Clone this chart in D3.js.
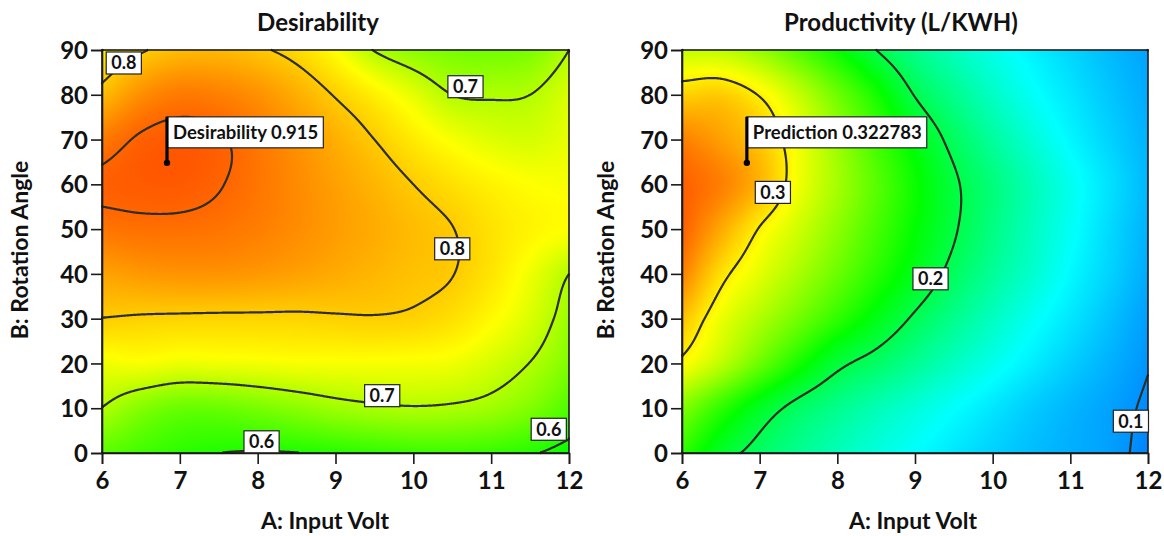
<!DOCTYPE html>
<html>
<head>
<meta charset="utf-8">
<script src="https://cdn.jsdelivr.net/npm/d3@7"></script>
<style>
  body { margin: 0; background: #ffffff; }
  svg text { font-family: Lato, "Open Sans", "DejaVu Sans", sans-serif; font-weight: 700; fill: #111; }
</style>
</head>
<body>
<svg id="chart" width="1164" height="536"></svg>
<script>
// Design grid: A = input volt (columns), B = rotation angle (rows, bottom to top)
const inputVolt = [6, 6.5, 7, 7.5, 8, 8.5, 9, 9.5, 10, 10.5, 11, 11.5, 12];
const rotationAngle = [0, 10, 20, 30, 40, 50, 60, 70, 80, 90];

// Desirability surface, one row per rotation angle
const desirability = [
  [0.640, 0.622, 0.608, 0.600, 0.597, 0.599, 0.605, 0.612, 0.618, 0.620, 0.615, 0.604, 0.585],
  [0.699, 0.668, 0.650, 0.650, 0.660, 0.672, 0.685, 0.693, 0.697, 0.694, 0.685, 0.665, 0.632],
  [0.740, 0.745, 0.738, 0.740, 0.742, 0.745, 0.745, 0.745, 0.744, 0.740, 0.722, 0.699, 0.665],
  [0.799, 0.795, 0.793, 0.792, 0.792, 0.792, 0.795, 0.797, 0.793, 0.780, 0.755, 0.725, 0.683],
  [0.840, 0.850, 0.855, 0.855, 0.850, 0.842, 0.832, 0.821, 0.810, 0.801, 0.775, 0.740, 0.700],
  [0.885, 0.890, 0.890, 0.886, 0.876, 0.862, 0.846, 0.831, 0.815, 0.801, 0.778, 0.760, 0.748],
  [0.906, 0.911, 0.912, 0.902, 0.885, 0.864, 0.843, 0.822, 0.800, 0.780, 0.762, 0.750, 0.745],
  [0.880, 0.905, 0.912, 0.904, 0.882, 0.856, 0.828, 0.800, 0.770, 0.745, 0.728, 0.722, 0.735],
  [0.815, 0.860, 0.880, 0.875, 0.858, 0.830, 0.797, 0.765, 0.732, 0.700, 0.696, 0.700, 0.725],
  [0.760, 0.795, 0.815, 0.818, 0.806, 0.785, 0.748, 0.698, 0.673, 0.660, 0.655, 0.662, 0.700]
];

// Productivity (L/KWH) surface, one row per rotation angle
const productivity = [
  [0.235, 0.210, 0.192, 0.178, 0.166, 0.155, 0.145, 0.135, 0.126, 0.118, 0.112, 0.106, 0.094],
  [0.260, 0.235, 0.212, 0.193, 0.180, 0.168, 0.157, 0.146, 0.135, 0.124, 0.115, 0.107, 0.097],
  [0.296, 0.276, 0.252, 0.228, 0.205, 0.192, 0.178, 0.164, 0.151, 0.138, 0.125, 0.113, 0.101],
  [0.315, 0.290, 0.272, 0.254, 0.235, 0.216, 0.197, 0.180, 0.164, 0.149, 0.135, 0.120, 0.105],
  [0.335, 0.305, 0.287, 0.270, 0.252, 0.233, 0.214, 0.194, 0.176, 0.160, 0.143, 0.127, 0.110],
  [0.345, 0.322, 0.299, 0.281, 0.262, 0.242, 0.222, 0.202, 0.183, 0.165, 0.148, 0.130, 0.113],
  [0.345, 0.335, 0.318, 0.291, 0.269, 0.247, 0.225, 0.203, 0.185, 0.167, 0.150, 0.133, 0.115],
  [0.335, 0.325, 0.312, 0.290, 0.265, 0.240, 0.217, 0.194, 0.175, 0.158, 0.142, 0.127, 0.113],
  [0.309, 0.311, 0.299, 0.278, 0.253, 0.228, 0.199, 0.180, 0.163, 0.148, 0.135, 0.122, 0.110],
  [0.278, 0.276, 0.264, 0.245, 0.224, 0.200, 0.180, 0.165, 0.152, 0.140, 0.128, 0.117, 0.107]
];

const voltTicks = [6, 7, 8, 9, 10, 11, 12];
const angleTicks = [0, 10, 20, 30, 40, 50, 60, 70, 80, 90];

const desirabilityLevels = [0.6, 0.7, 0.8, 0.9];
const productivityLevels = [0.1, 0.2, 0.3];

// Selected factor setting and the responses predicted there
const optimumVolt = 6.835;
const optimumAngle = 64.8;
const desirabilityAtOptimum = 0.915;
const productivityAtOptimum = 0.322783;

// Colour ramp (blue -> cyan -> green -> yellow -> red) and where each stop sits per response
const rampColors = ["#0000ff", "#00ffff", "#00ff00", "#ffff00", "#ff0000"];
const desirabilityStops = [0.35, 0.47, 0.58, 0.75, 1.0];
const productivityStops = [0.04, 0.145, 0.222, 0.295, 0.375];

// Where each contour's value tag sits, in (volt, angle) units
const desirabilityTagSpots = [[6.28, 87.1, 0.8], [10.67, 81.8, 0.7], [10.5, 45.6, 0.8],
                              [9.6, 12.8, 0.7], [8.05, 2.5, 0.6], [11.74, 5.3, 0.6]];
const productivityTagSpots = [[7.17, 58.2, 0.3], [9.2, 38.9, 0.2], [11.78, 7.1, 0.1]];

const svg = d3.select("#chart");

// Smooth (Catmull-Rom) surface through the grid values
function cubic(p0, p1, p2, p3, t) {
  return p1 + 0.5 * t * (p2 - p0 + t * (2 * p0 - 5 * p1 + 4 * p2 - p3 + t * (3 * (p1 - p2) + p3 - p0)));
}
function surface(grid, xs, ys) {
  const nx = xs.length, ny = ys.length;
  function get(j, i) {
    if (i < 0) return 2 * get(j, 0) - get(j, 1);
    if (i > nx - 1) return 2 * get(j, nx - 1) - get(j, nx - 2);
    if (j < 0) return 2 * get(0, i) - get(1, i);
    if (j > ny - 1) return 2 * get(ny - 1, i) - get(ny - 2, i);
    return grid[j][i];
  }
  return function (a, b) {
    const u = (a - xs[0]) / (xs[1] - xs[0]);
    const v = (b - ys[0]) / (ys[1] - ys[0]);
    const i = Math.max(0, Math.min(nx - 2, Math.floor(u)));
    const j = Math.max(0, Math.min(ny - 2, Math.floor(v)));
    const t = u - i, s = v - j;
    const r = [-1, 0, 1, 2].map(k =>
      cubic(get(j + k, i - 1), get(j + k, i), get(j + k, i + 1), get(j + k, i + 2), t));
    return cubic(r[0], r[1], r[2], r[3], s);
  };
}

function drawPanel(cfg) {
  const x = d3.scaleLinear().domain([6, 12]).range([cfg.left, cfg.right]);
  const y = d3.scaleLinear().domain([0, 90]).range([cfg.bottom, cfg.top]);
  const W = Math.round(cfg.right - cfg.left), H = Math.round(cfg.bottom - cfg.top);
  const f = surface(cfg.grid, inputVolt, rotationAngle);
  const color = d3.scaleLinear().domain(cfg.stops).range(rampColors).clamp(true);

  // sample the surface at every pixel centre of the plot area
  const values = new Float64Array(W * H);
  for (let j = 0; j < H; j++) {
    const b = y.invert(cfg.top + j + 0.5);
    for (let i = 0; i < W; i++) {
      values[j * W + i] = f(x.invert(cfg.left + i + 0.5), b);
    }
  }

  // filled colour map
  const canvas = document.createElement("canvas");
  canvas.width = W; canvas.height = H;
  const ctx = canvas.getContext("2d");
  const img = ctx.createImageData(W, H);
  for (let k = 0; k < W * H; k++) {
    const c = d3.rgb(color(values[k]));
    img.data[4 * k] = c.r; img.data[4 * k + 1] = c.g; img.data[4 * k + 2] = c.b; img.data[4 * k + 3] = 255;
  }
  ctx.putImageData(img, 0, 0);
  svg.append("image")
    .attr("x", cfg.left).attr("y", cfg.top)
    .attr("width", W).attr("height", H)
    .attr("preserveAspectRatio", "none")
    .attr("href", canvas.toDataURL());

  // contour lines, leaving out the stretches that run along the plot border
  const onBorder = (p, q) => (p[0] === 0 && q[0] === 0) || (p[0] === W && q[0] === W) ||
                             (p[1] === 0 && q[1] === 0) || (p[1] === H && q[1] === H);
  const line = d3.line();
  const gLines = svg.append("g").attr("transform", `translate(${cfg.left},${cfg.top})`);
  cfg.levels.forEach(level => {
    const geo = d3.contours().size([W, H]).thresholds([level])(values)[0];
    geo.coordinates.forEach(poly => poly.forEach(ring => {
      let cur = [ring[0]];
      for (let k = 1; k < ring.length; k++) {
        const p = ring[k - 1], q = ring[k];
        if (onBorder(p, q)) { if (cur.length > 1) drawPiece(cur); cur = [q]; }
        else cur.push(q);
      }
      if (cur.length > 1) drawPiece(cur);
    }));
  });
  function drawPiece(pts) {
    gLines.append("path").attr("d", line(pts))
      .attr("fill", "none").attr("stroke", "#2e2e26").attr("stroke-width", 2.2)
      .attr("stroke-linejoin", "round").attr("stroke-linecap", "round");
  }

  // plot frame
  svg.append("rect")
    .attr("x", cfg.left).attr("y", cfg.top).attr("width", W).attr("height", H)
    .attr("fill", "none").attr("stroke", "#1a1a1a").attr("stroke-width", 1.6);

  // axes
  const ax = svg.append("g").attr("transform", `translate(0,${cfg.bottom})`)
    .call(d3.axisBottom(x).tickValues(voltTicks).tickSize(11).tickPadding(3).tickFormat(d3.format("d")));
  const ay = svg.append("g").attr("transform", `translate(${cfg.left},0)`)
    .call(d3.axisLeft(y).tickValues(angleTicks).tickSize(11).tickPadding(3).tickFormat(d3.format("d")));
  [ax, ay].forEach(g => {
    g.select(".domain").attr("stroke", "#1a1a1a").attr("stroke-width", 1.6);
    g.selectAll(".tick line").attr("stroke", "#1a1a1a").attr("stroke-width", 1.6);
    g.selectAll(".tick text").style("font-size", "24px").attr("fill", "#111");
  });
  ay.selectAll(".tick text").attr("dy", "0.36em");
  ax.selectAll(".tick text").attr("dy", "0.92em");

  // titles
  svg.append("text").attr("x", cfg.titleX).attr("y", 31).attr("text-anchor", "middle")
    .style("font-size", "24px").text(cfg.title);
  svg.append("text").attr("x", cfg.xTitleX).attr("y", 529).attr("text-anchor", "middle")
    .style("font-size", "23px").text("A: Input Volt");
  svg.append("text").attr("transform", `translate(${cfg.yTitleX},${250}) rotate(-90)`)
    .attr("text-anchor", "middle").attr("dy", "0.36em")
    .style("font-size", "23px").text("B: Rotation Angle");

  // contour value tags
  cfg.tags.forEach(([a, b, v]) => {
    const g = svg.append("g");
    const t = g.append("text").attr("x", x(a)).attr("y", y(b)).attr("dy", "0.36em")
      .attr("text-anchor", "middle").style("font-size", "18px").text(d3.format(".1f")(v));
    const bb = t.node().getBBox();
    g.insert("rect", "text")
      .attr("x", bb.x - 5).attr("y", y(b) - 11).attr("width", bb.width + 10).attr("height", 22)
      .attr("fill", "#fff").attr("stroke", "#222").attr("stroke-width", 1.2);
  });

  // selected point with its flag
  const px = x(optimumVolt), py = y(optimumAngle);
  const boxTop = py - 46, boxH = 31;
  const flag = svg.append("g");
  const ft = flag.append("text").attr("x", px + 6).attr("y", boxTop + boxH / 2).attr("dy", "0.36em")
    .style("font-size", "18.5px").text(cfg.flagText);
  const fw = ft.node().getComputedTextLength();
  flag.insert("rect", "text").attr("x", px).attr("y", boxTop).attr("width", fw + 11).attr("height", boxH)
    .attr("fill", "#fff").attr("stroke", "#222").attr("stroke-width", 1.2);
  flag.append("line").attr("x1", px).attr("x2", px).attr("y1", boxTop).attr("y2", py)
    .attr("stroke", "#000").attr("stroke-width", 3.2);
  flag.append("circle").attr("cx", px).attr("cy", py).attr("r", 3.2).attr("fill", "#000");
}

drawPanel({
  title: "Desirability", grid: desirability, stops: desirabilityStops, levels: desirabilityLevels,
  tags: desirabilityTagSpots, flagText: "Desirability " + desirabilityAtOptimum,
  left: 102, right: 569, top: 50, bottom: 453, titleX: 318, xTitleX: 325, yTitleX: 20
});
drawPanel({
  title: "Productivity (L/KWH)", grid: productivity, stops: productivityStops, levels: productivityLevels,
  tags: productivityTagSpots, flagText: "Prediction " + productivityAtOptimum,
  left: 682, right: 1148, top: 50, bottom: 453, titleX: 901, xTitleX: 913, yTitleX: 606
});
</script>
</body>
</html>
